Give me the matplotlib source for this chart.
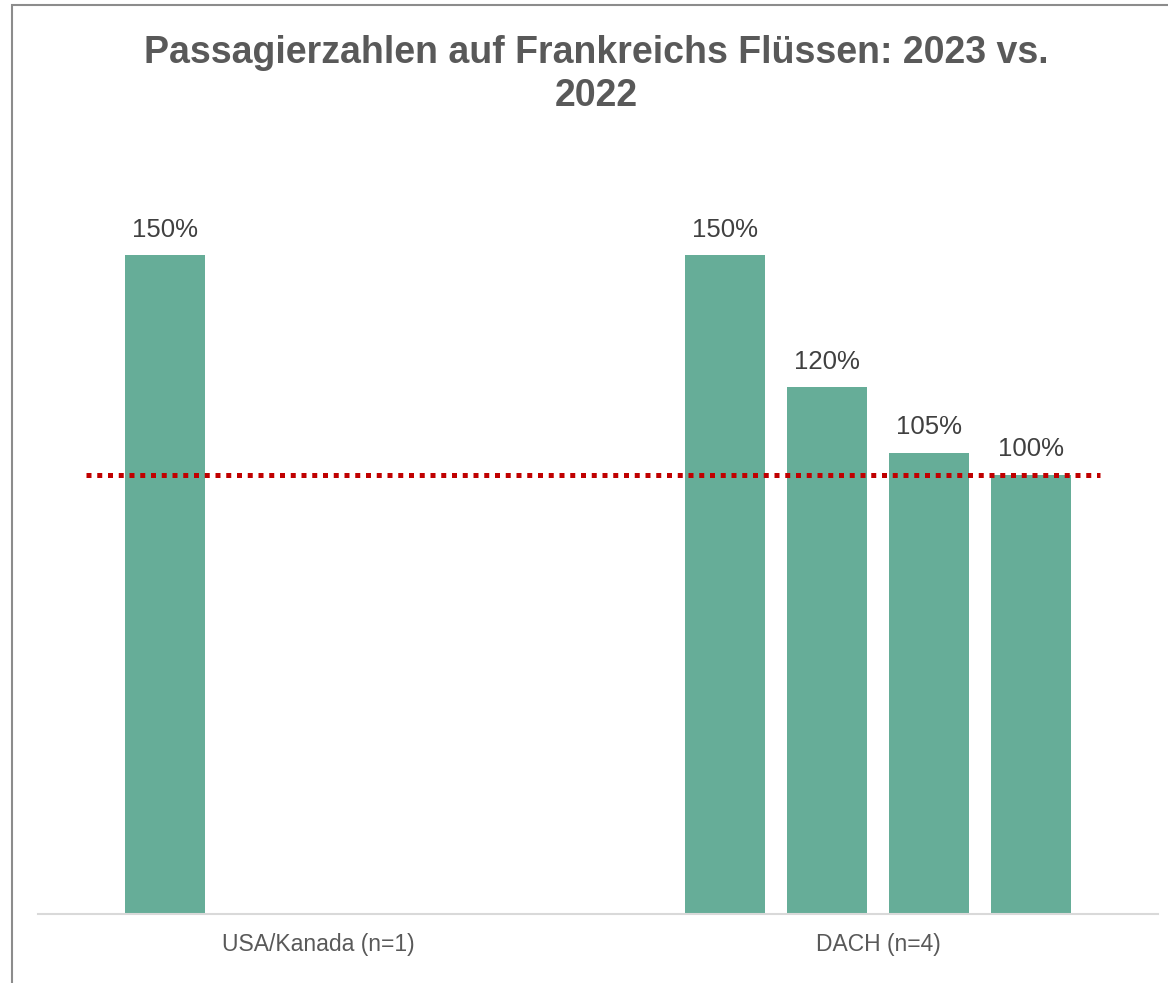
import numpy as np
import matplotlib
matplotlib.use("Agg")
import matplotlib.pyplot as plt
from matplotlib.patches import Rectangle

plt.rcParams['font.family'] = ['Liberation Sans', 'DejaVu Sans']

# data
title = "Passagierzahlen auf Frankreichs Flüssen: 2023 vs.\n2022"
categories = ["USA/Kanada (n=1)", "DACH (n=4)"]
# four series per category, NaN where a category has no entry
series = [
    [150, 150],
    [np.nan, 120],
    [np.nan, 105],
    [np.nan, 100],
]
reference = 100

bar_color = "#66ad98"
W, H = 1168, 983

fig = plt.figure(figsize=(W / 100, H / 100), dpi=100)
ax = fig.add_axes([38 / W, 69 / H, 1120 / W, (914 - 211) / H])

x = np.arange(len(categories))
slot = 0.1816
width = 0.143
n = len(series)
for i, vals in enumerate(series):
    offs = (i - (n - 1) / 2) * slot
    for xi, v in zip(x, vals):
        if np.isnan(v):
            continue
        ax.bar(xi + offs, v, width=width, color=bar_color, zorder=2)
        ax.text(xi + offs, v + 3, f"{v:.0f}%", ha="center", va="bottom",
                fontsize=18.5, color="#404040")

ax.axhline(reference, xmin=48 / 1120, xmax=1062 / 1120, color="#c00000",
           lw=3.6, linestyle=(0, (1.0, 1.15)), zorder=3)

ax.set_xlim(-0.5, 1.5)
ax.set_ylim(0, 160)
ax.set_xticks(x)
ax.set_xticklabels(categories, fontsize=16.5, color="#595959")
ax.tick_params(axis="x", length=0, pad=14)
ax.set_yticks([])
for s in ["top", "right", "left"]:
    ax.spines[s].set_visible(False)
ax.spines["bottom"].set_color("#d9d9d9")
ax.spines["bottom"].set_linewidth(1.5)

fig.text(596 / W, 1 - 35 / H, title, ha="center", va="top", fontsize=27,
         fontweight="bold", color="#595959", linespacing=1.25)

# chart frame (cut at right and bottom edge)
fig.add_artist(Rectangle((12 / W, -0.05), 1.2, 1 - 5 / H + 0.05,
                         transform=fig.transFigure, fill=False,
                         edgecolor="#8c8c8c", lw=1.5))

fig.savefig("out.png", dpi=100)
